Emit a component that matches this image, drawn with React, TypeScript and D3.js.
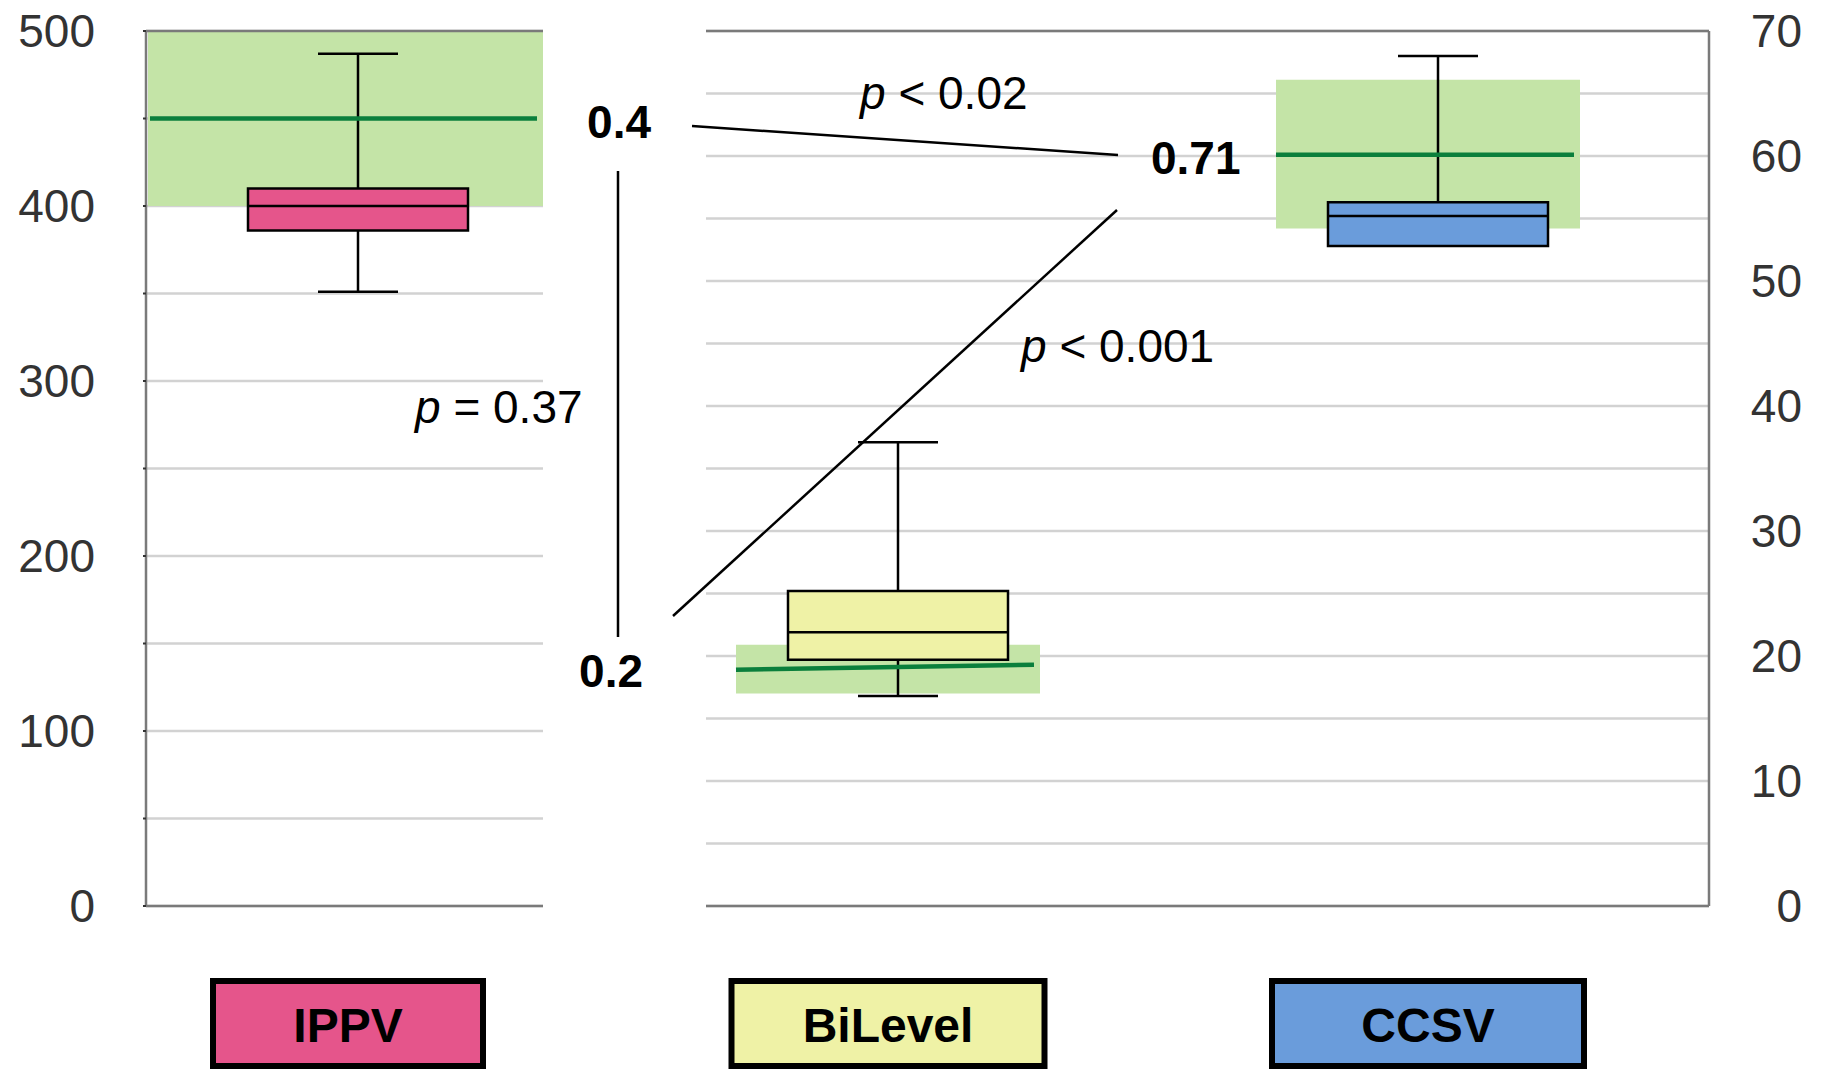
import * as d3 from 'd3';

// groups, left one on the 0-500 scale, the other two on the 0-70 scale
const categories = ['IPPV', 'BiLevel', 'CCSV'];
const boxColors = ['#e5558b', '#eff2a6', '#6a9cdb'];

// [whiskerLow, q1, median, q3, whiskerHigh]
const ippvStats = [351, 386, 400, 410, 487];
const bilevelStats = [16.8, 19.7, 21.9, 25.2, 37.1];
const ccsvStats = [52.8, 52.8, 55.2, 56.3, 68.0];

// green reference band [low, high] and its line [left, right]
const ippvBand = [400, 500];
const bilevelBand = [17.0, 20.9];
const ccsvBand = [54.2, 66.1];
const ippvLine = [450, 450];
const bilevelLine = [18.9, 19.3];
const ccsvLine = [60.1, 60.1];

const leftTicks = [0, 100, 200, 300, 400, 500];
const rightTicks = [0, 10, 20, 30, 40, 50, 60, 70];

const corrLabels = ['0.4', '0.71', '0.2'];
const pLabels = ['< 0.02', '< 0.001', '= 0.37'];

const W = 1823;
const H = 1070;
const top = 31;
const bottom = 906;
const leftPanel = [146, 543];
const rightPanel = [706, 1709];

const font = '"Liberation Sans", Arial, Helvetica, sans-serif';

export default function App() {
  const yL = d3.scaleLinear().domain([0, 500]).range([bottom, top]);
  const yR = d3.scaleLinear().domain([0, 70]).range([bottom, top]);
  const x = d3.scalePoint<string>().domain(categories).range([358, 1438]);

  const boxW = 220;
  const capW = 80;
  const bandW = 304;

  const groups = [
    { cat: 'IPPV', y: yL, stats: ippvStats, band: ippvBand, line: ippvLine, bandX: [leftPanel[0] + 2, leftPanel[1]] },
    { cat: 'BiLevel', y: yR, stats: bilevelStats, band: bilevelBand, line: bilevelLine, bandX: null },
    { cat: 'CCSV', y: yR, stats: ccsvStats, band: ccsvBand, line: ccsvLine, bandX: null },
  ];

  const labelW: Record<string, number> = { IPPV: 270, BiLevel: 313, CCSV: 312 };

  const gridColor = '#d2d2d2';
  const axisColor = '#7a7a7a';

  return (
    <svg
      width={W}
      height={H}
      style={{ position: 'absolute', left: 0, top: 0, background: '#fff' }}
      fontFamily={font}
    >
      {/* gridlines */}
      {d3.range(0, 501, 50).map(v => (
        <line key={'gl' + v} x1={leftPanel[0]} x2={leftPanel[1]} y1={yL(v)} y2={yL(v)} stroke={gridColor} strokeWidth={2.5} />
      ))}
      {d3.range(0, 71, 5).map(v => (
        <line key={'gr' + v} x1={rightPanel[0]} x2={rightPanel[1]} y1={yR(v)} y2={yR(v)} stroke={gridColor} strokeWidth={2.5} />
      ))}

      {/* green bands and lines */}
      {groups.map(g => {
        const cx = x(g.cat)!;
        const bx = g.bandX ?? [cx - 10 - bandW / 2, cx - 10 + bandW / 2];
        return (
          <g key={'band' + g.cat}>
            <rect x={bx[0]} y={g.y(g.band[1])} width={bx[1] - bx[0]} height={g.y(g.band[0]) - g.y(g.band[1])} fill="#c4e4a7" />
          </g>
        );
      })}

      {/* boxes */}
      {groups.map((g, i) => {
        const cx = x(g.cat)!;
        const [lo, q1, med, q3, hi] = g.stats;
        const y = g.y;
        return (
          <g key={'box' + g.cat} stroke="#000" strokeWidth={2.5}>
            <line x1={cx} x2={cx} y1={y(hi)} y2={y(lo)} />
            <line x1={cx - capW / 2} x2={cx + capW / 2} y1={y(hi)} y2={y(hi)} />
            {lo < q1 && <line x1={cx - capW / 2} x2={cx + capW / 2} y1={y(lo)} y2={y(lo)} />}
            <rect x={cx - boxW / 2} y={y(q3)} width={boxW} height={y(q1) - y(q3)} fill={boxColors[i]} />
            <line x1={cx - boxW / 2} x2={cx + boxW / 2} y1={y(med)} y2={y(med)} />
          </g>
        );
      })}

      {groups.map(g => {
        const cx = x(g.cat)!;
        const bx = g.bandX ? [g.bandX[0] + 2, g.bandX[1] - 6] : [cx - 10 - bandW / 2, cx - 10 + bandW / 2 - 6];
        return (
          <line key={'mean' + g.cat} x1={bx[0]} x2={bx[1]} y1={g.y(g.line[0])} y2={g.y(g.line[1])} stroke="#0b7f3c" strokeWidth={4.5} />
        );
      })}

      {/* axes */}
      <g stroke={axisColor} strokeWidth={2.5} fill="none">
        <line x1={leftPanel[0]} x2={leftPanel[0]} y1={top} y2={bottom} />
        <line x1={leftPanel[0]} x2={leftPanel[1]} y1={bottom} y2={bottom} />
        <line x1={leftPanel[0]} x2={leftPanel[1]} y1={top} y2={top} />
        <line x1={rightPanel[0]} x2={rightPanel[1]} y1={bottom} y2={bottom} />
        <line x1={rightPanel[0]} x2={rightPanel[1]} y1={top} y2={top} />
        <line x1={rightPanel[1]} x2={rightPanel[1]} y1={top} y2={bottom} />
      </g>
      {d3.range(0, 501, 50).map(v => (
        <line key={'tk' + v} x1={leftPanel[0] - 3} x2={leftPanel[0]} y1={yL(v)} y2={yL(v)} stroke="#333" strokeWidth={2} />
      ))}
      {leftTicks.map(v => (
        <text key={'lt' + v} x={95} y={yL(v) + 16} textAnchor="end" fontSize={46} fill="#333">{v}</text>
      ))}
      {rightTicks.map(v => (
        <text key={'rt' + v} x={1802} y={yR(v) + 16} textAnchor="end" fontSize={46} fill="#333">{v}</text>
      ))}

      {/* correlation annotations */}
      <g stroke="#000" strokeWidth={2.5}>
        <line x1={692} y1={126} x2={1118} y2={155} />
        <line x1={618} y1={171} x2={618} y2={637} />
        <line x1={673} y1={616} x2={1117} y2={210} />
      </g>
      <g fontWeight="bold" fontSize={46} fill="#000">
        <text x={651} y={122 + 16} textAnchor="end">{corrLabels[0]}</text>
        <text x={1151} y={158 + 16}>{corrLabels[1]}</text>
        <text x={643} y={671 + 16} textAnchor="end">{corrLabels[2]}</text>
      </g>
      <g fontSize={46} fill="#000">
        <text x={860} y={93 + 16}><tspan fontStyle="italic">p</tspan> {pLabels[0]}</text>
        <text x={1021} y={346 + 16}><tspan fontStyle="italic">p</tspan> {pLabels[1]}</text>
        <text x={415} y={407 + 16}><tspan fontStyle="italic">p</tspan> {pLabels[2]}</text>
      </g>

      {/* category labels */}
      {categories.map((c, i) => {
        const cx = x(c)! - 10;
        const w = labelW[c];
        return (
          <g key={'lab' + c}>
            <rect x={cx - w / 2} y={981} width={w} height={85} fill={boxColors[i]} stroke="#000" strokeWidth={6} />
            <text x={cx} y={1025 + 17} textAnchor="middle" fontSize={48} fontWeight="bold" fill="#000">{c}</text>
          </g>
        );
      })}
    </svg>
  );
}
